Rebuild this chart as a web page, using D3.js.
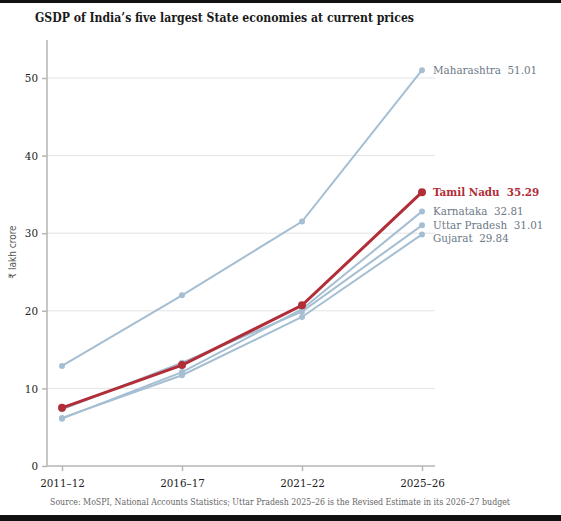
<!DOCTYPE html>
<html>
<head>
<meta charset="utf-8">
<script src="https://cdn.jsdelivr.net/npm/d3@7"></script>
<style>
  body { margin: 0; background: #fff; }
  text { font-family: "DejaVu Serif Condensed", "DejaVu Serif", serif; }
</style>
</head>
<body>
<div id="chart"></div>
<script>
width = 561;
height = 521;

margin = {
    top: 40,
    right: 126,
    bottom: 55,
    left: 47
};

//////// Data ////////
const years = ['2011–12', '2016–17', '2021–22', '2025–26'];
const states = ['Maharashtra', 'Karnataka', 'Uttar Pradesh', 'Gujarat', 'Tamil Nadu'];
const maharashtra = [12.9, 22.0, 31.5, 51.01];
const karnataka = [6.1, 12.1, 20.2, 32.81];
const uttarPradesh = [7.3, 13.3, 19.9, 31.01];
const gujarat = [6.2, 11.7, 19.2, 29.84];
const tamilNadu = [7.5, 13.0, 20.7, 35.29];
const yTicks = [0, 10, 20, 30, 40, 50];

const series = [
    {name: 'Maharashtra', values: maharashtra},
    {name: 'Karnataka', values: karnataka},
    {name: 'Uttar Pradesh', values: uttarPradesh},
    {name: 'Gujarat', values: gujarat},
    {name: 'Tamil Nadu', values: tamilNadu, highlight: true}
];

const blue = '#a5bed2';
const red = '#b12d37';

var svg = d3.select('#chart')
    .append('svg')
    .attr('width', width)
    .attr('height', height);

// black bands top and bottom
svg.append('rect').attr('x', 0).attr('y', 0).attr('width', width).attr('height', 3).attr('fill', '#111');
svg.append('rect').attr('x', 0).attr('y', 515).attr('width', width).attr('height', 6).attr('fill', '#111');

svg.append('text')
    .attr('x', 35)
    .attr('y', 22)
    .style('font-weight', 'bold')
    .style('font-size', '13.5px')
    .attr('fill', '#1a1a1a')
    .attr('textLength', 379)
    .attr('lengthAdjust', 'spacingAndGlyphs')
    .text('GSDP of India’s five largest State economies at current prices');

//////// Scales ////////
const xScale = d3.scalePoint()
    .domain(years)
    .range([62, 422]);

const yScale = d3.scaleLinear()
    .domain([0, 50])
    .range([466, 78]);

// grid
svg.append('g')
    .selectAll('line')
    .data(yTicks.filter(d => d > 0))
    .join('line')
    .attr('x1', margin.left)
    .attr('x2', 435)
    .attr('y1', d => yScale(d))
    .attr('y2', d => yScale(d))
    .attr('stroke', '#e3e3e3')
    .attr('stroke-width', 1);

// y axis
const yAxis = svg.append('g')
    .attr('transform', `translate(${margin.left},0)`)
    .call(d3.axisLeft(yScale).tickValues(yTicks).tickSize(5).tickFormat(d3.format('d')));
yAxis.select('.domain').attr('d', `M0,${margin.top}V${yScale(0)}`);
yAxis.selectAll('path, line').attr('stroke', '#b5b5b5').attr('stroke-width', 1.5);
yAxis.selectAll('text').style('font-size', '11.5px').attr('fill', '#222').attr('x', -9);

// x axis
const xAxis = svg.append('g')
    .attr('transform', `translate(0,${yScale(0)})`)
    .call(d3.axisBottom(xScale).tickSize(5));
xAxis.select('.domain').attr('d', `M${margin.left},0H435`);
xAxis.selectAll('path, line').attr('stroke', '#b5b5b5').attr('stroke-width', 1.5);
xAxis.selectAll('text').style('font-size', '11.5px').attr('fill', '#222').attr('dy', '1.1em');

// y label
svg.append('text')
    .attr('transform', 'translate(16,252) rotate(-90)')
    .attr('text-anchor', 'middle')
    .style('font-family', '"Liberation Sans Narrow", "DejaVu Sans Condensed", sans-serif')
    .style('font-size', '10px')
    .attr('fill', '#555')
    .text('₹ lakh crore');

//////// Lines ////////
const line = d3.line()
    .x((d, i) => xScale(years[i]))
    .y(d => yScale(d));

const g = svg.selectAll('g.series')
    .data(series)
    .join('g')
    .attr('class', 'series');

g.append('path')
    .attr('d', d => line(d.values))
    .attr('fill', 'none')
    .attr('stroke', d => d.highlight ? red : blue)
    .attr('stroke-width', d => d.highlight ? 3 : 2);

g.selectAll('circle')
    .data(d => d.values.map((v, i) => ({v: v, i: i, highlight: d.highlight})))
    .join('circle')
    .attr('cx', d => xScale(years[d.i]))
    .attr('cy', d => yScale(d.v))
    .attr('r', d => d.highlight ? 4 : 3)
    .attr('fill', d => d.highlight ? red : blue);

//////// Labels ////////
let labels = series.map(s => ({
    name: s.name,
    value: s.values[s.values.length - 1],
    highlight: s.highlight,
    y: yScale(s.values[s.values.length - 1])
})).sort((a, b) => a.y - b.y);

// nudge overlapping labels downward
for (let i = 1; i < labels.length; i++) {
    if (labels[i].y - labels[i - 1].y < 12.5) labels[i].y = labels[i - 1].y + 12.5;
}

svg.append('g')
    .selectAll('text')
    .data(labels)
    .join('text')
    .attr('x', 433)
    .attr('y', d => d.y)
    .attr('dy', '0.35em')
    .style('font-size', '11.5px')
    .style('font-weight', d => d.highlight ? 'bold' : 'normal')
    .attr('fill', d => d.highlight ? red : '#6b7886')
    .attr('xml:space', 'preserve')
    .text(d => d.name + '  ' + d3.format('.2f')(d.value));

//////// Source ////////
svg.append('text')
    .attr('x', 50)
    .attr('y', 505)
    .style('font-size', '8.5px')
    .attr('fill', '#666')
    .attr('textLength', 460)
    .attr('lengthAdjust', 'spacingAndGlyphs')
    .text('Source: MoSPI, National Accounts Statistics; Uttar Pradesh 2025–26 is the Revised Estimate in its 2026–27 budget');
</script>
</body>
</html>
